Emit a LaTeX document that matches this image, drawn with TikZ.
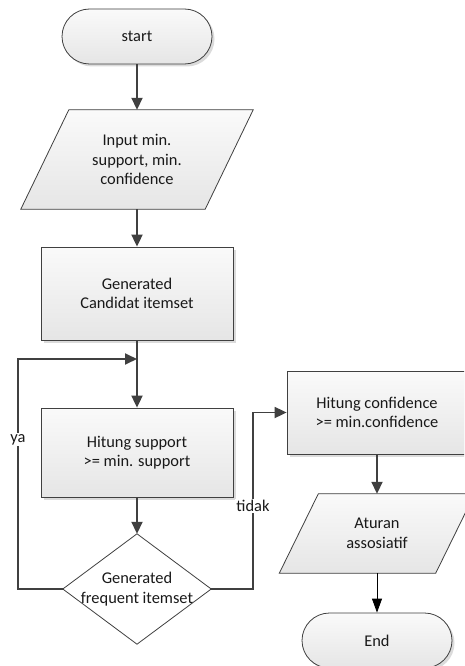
\documentclass[tikz,border=0pt]{standalone}
\usepackage{fontspec}
\setmainfont{Carlito}
\usetikzlibrary{arrows.meta,shadows}
\pgfdeclarelayer{bg}
\pgfsetlayers{bg,main}
\definecolor{ln}{HTML}{404040}
\begin{document}
\begin{tikzpicture}[x=1pt,y=-1pt,
  every node/.style={font=\fontsize{16.4}{19.5}\selectfont, align=center, text=black!90},
  fillshade/.style={top color=white!98!black, bottom color=black!10},
  shdw/.style={drop shadow={shadow xshift=2.5pt, shadow yshift=-2.5pt, fill=black!14, opacity=1}},
  boxshape/.style={rectangle, draw=ln, line width=0.8pt, fillshade, shdw, inner sep=0pt},
  termshape/.style={boxshape, rounded corners=27.5pt, minimum width=150pt, minimum height=55pt},
  place/.style={rectangle, inner sep=0pt},
  conn/.style={draw=ln, line width=1.8pt, -{Triangle[length=12pt,width=11pt]}},
  thinconn/.style={draw=black, line width=0.8pt, -{Triangle[length=14pt,width=10pt]}},
  lab/.style={fill=white, inner sep=1.5pt}]
\clip (0,0) rectangle (464,666);

% nodes
\node[termshape] (start) at (137,36.5) {start};
\node[place, minimum width=184pt, minimum height=99pt] (in) at (137,159.5) {Input min.\\support, min.\\confidence};
\node[boxshape, minimum width=192pt, minimum height=93pt] (gen) at (137,293.5) {Generated\\Candidat itemset};
\node[boxshape, minimum width=192pt, minimum height=89pt] (hs) at (137,452.5) {Hitung support\\>= min. support};
\node[place, minimum width=148pt, minimum height=110pt] (dia) at (137,589) {Generated\\frequent itemset};
\node[boxshape, minimum width=180pt, minimum height=83pt] (hc) at (377,412.5) {Hitung confidence\\>= min.confidence};
\node[place, minimum width=156pt, minimum height=79pt] (at) at (377,533.5) {Aturan\\assosiatif};
\node[termshape] (end) at (377,640.5) {End};

% hand-drawn shapes behind the texts
\begin{pgfonlayer}{bg}
  \fill[white] (0,0) rectangle (464,666);
  \fill[black!14, xshift=2.5pt, yshift=-2.5pt]
    ([xshift=24pt]in.north west) -- ([xshift=24pt]in.north east) -- ([xshift=-24pt]in.south east) -- ([xshift=-24pt]in.south west) -- cycle;
  \path[fillshade, draw=ln, line width=0.8pt]
    ([xshift=24pt]in.north west) -- ([xshift=24pt]in.north east) -- ([xshift=-24pt]in.south east) -- ([xshift=-24pt]in.south west) -- cycle;
  \fill[black!14, xshift=2.5pt, yshift=-2.5pt]
    ([xshift=19.5pt]at.north west) -- ([xshift=19.5pt]at.north east) -- ([xshift=-19.5pt]at.south east) -- ([xshift=-19.5pt]at.south west) -- cycle;
  \path[fillshade, draw=ln, line width=0.8pt]
    ([xshift=19.5pt]at.north west) -- ([xshift=19.5pt]at.north east) -- ([xshift=-19.5pt]at.south east) -- ([xshift=-19.5pt]at.south west) -- cycle;
  \path[fill=white, draw=ln, line width=0.8pt]
    (dia.north) -- (dia.east) -- (dia.south) -- (dia.west) -- cycle;
\end{pgfonlayer}

% connectors
\coordinate (j) at (137,359);
\coordinate (lp) at (18,589);
\coordinate (rp) at (253,589);
\draw[conn] (start.south) -- (in.north);
\draw[conn] (in.south) -- (gen.north);
\draw[conn] (gen.south) -- (hs.north);
\draw[conn] (hs.south) -- (dia.north);
\draw[conn] (dia.west) -- (lp) -- node[lab, pos=0.65]{ya} (lp |- j) -- (j);
\draw[conn] (dia.east) -- (rp) -- node[lab, pos=0.47]{tidak} (rp |- hc.west) -- (hc.west);
\draw[conn] (hc.south) -- (at.north);
\draw[thinconn] (at.south) -- (end.north);
\end{tikzpicture}
\end{document}
